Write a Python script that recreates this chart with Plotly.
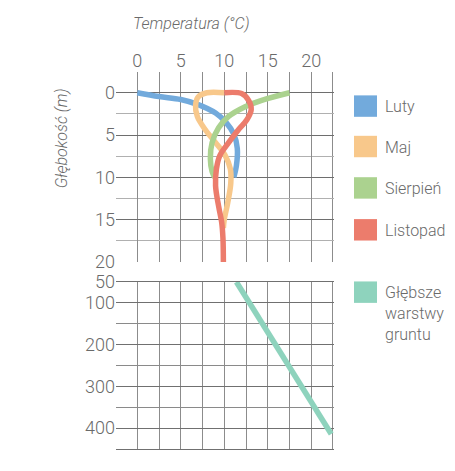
import plotly.graph_objects as go
from plotly.subplots import make_subplots

# miesiace i kolory krzywych
months = ["Luty", "Maj", "Sierpień", "Listopad"]
month_colors = ["#72aadc", "#f8c88b", "#abd28f", "#ec7c6c"]

# temperatura (°C) vs glebokosc (m)
luty_temp = [0, 2.5, 5.0, 7.0, 9.0, 10.2, 11.1, 11.5, 11.4, 11.1]
luty_depth = [0, 0.45, 0.8, 1.4, 2.4, 3.5, 4.9, 6.6, 8.6, 10.0]

maj_temp = [10.0, 8.0, 7.0, 6.7, 6.9, 7.8, 9.0, 10.1, 10.7, 10.75, 10.4, 10.0, 9.9]
maj_depth = [0, 0, 0.5, 1.5, 2.8, 4.35, 5.9, 7.4, 9.0, 10.7, 13.0, 15.0, 16.0]

sierpien_temp = [17.5, 14.3, 12.4, 10.5, 9.35, 8.6, 8.4, 8.6, 8.9]
sierpien_depth = [0, 0.9, 1.65, 2.8, 4.15, 5.9, 7.8, 9.3, 10.0]

listopad_temp = [10.0, 12.0, 12.8, 13.1, 12.6, 11.65, 10.5, 9.5, 9.1, 9.0, 9.35, 9.7, 9.85, 9.9]
listopad_depth = [0, 0.1, 0.9, 2.0, 3.2, 4.35, 5.9, 7.4, 9.0, 11.0, 13.4, 15.3, 17.2, 20.0]

# glebsze warstwy gruntu
deep_name = "Głębsze<br>warstwy<br>gruntu"
deep_color = "#8ed3bd"
deep_temp = [11.4, 12.9, 15.9, 18.9, 22.3]
deep_depth = [50, 100, 200, 300, 414]

temp_ticks = [0, 5, 10, 15, 20]
top_depth_ticks = [0, 5, 10, 15, 20]
deep_depth_ticks = [50, 100, 200, 300, 400]

month_temps = [luty_temp, maj_temp, sierpien_temp, listopad_temp]
month_depths = [luty_depth, maj_depth, sierpien_depth, listopad_depth]

FONT = "Roboto, Liberation Sans Narrow, sans-serif"
TEXT = "#6a6a6a"
W, H = 455, 471
L, R, T, B = 116, 121, 72, 12
PW, PH = W - L - R, H - T - B


def px2x(px):
    return (px - L) / PW


def py2y(py):
    return (H - B - py) / PH


fig = make_subplots(rows=2, cols=1, shared_xaxes=False, vertical_spacing=0)

for name, color, xs, ys in zip(months, month_colors, month_temps, month_depths):
    fig.add_trace(
        go.Scatter(
            x=xs, y=ys, mode="lines", name=name,
            line=dict(color=color, width=5.5, shape="spline", smoothing=1.0),
            showlegend=False,
        ),
        row=1, col=1,
    )

fig.add_trace(
    go.Scatter(
        x=deep_temp, y=deep_depth, mode="lines", name=deep_name,
        line=dict(color=deep_color, width=5.5),
        showlegend=False,
    ),
    row=2, col=1,
)

vgrid = "#8c8c8c"
tickfont = dict(family=FONT, size=18, color=TEXT, weight=300)
xcommon = dict(
    range=[-2.45, 22.62],
    tickmode="array", tickvals=temp_ticks,
    showgrid=True, gridcolor=vgrid, gridwidth=1,
    minor=dict(dtick=2.5, tick0=0, showgrid=True, gridcolor=vgrid, gridwidth=1),
    zeroline=False, ticks="",
)
fig.update_layout(
    xaxis=dict(xcommon, side="top", showticklabels=True, tickfont=tickfont),
    xaxis2=dict(xcommon, showticklabels=False, matches="x",
                showline=True, mirror=True, linecolor="#707070", linewidth=1),
    yaxis=dict(
        domain=[py2y(267), 1], range=[20, -2.45],
        tickmode="array", tickvals=top_depth_ticks,
        showgrid=True, gridcolor="#6e6e6e", gridwidth=1,
        minor=dict(dtick=2.5, tick0=0, showgrid=True, gridcolor="#b0b0b0", gridwidth=1),
        zeroline=False, ticks="", tickfont=tickfont,
    ),
    yaxis2=dict(
        domain=[0, py2y(287.5)], range=[450, 50],
        tickmode="array", tickvals=deep_depth_ticks,
        showgrid=True, gridcolor="#707070", gridwidth=1,
        minor=dict(dtick=50, tick0=0, showgrid=True, gridcolor="#8a8a8a", gridwidth=1),
        zeroline=False, ticks="", tickfont=tickfont,
    ),
)

# legenda z kwadratami po prawej
legend_rows = [107, 148.5, 191, 234, 298]
shapes = []
annotations = []
for name, color, cy in zip(months + [deep_name], month_colors + [deep_color], legend_rows):
    shapes.append(dict(
        type="rect", xref="paper", yref="paper",
        x0=px2x(354), x1=px2x(377), y0=py2y(cy + 11), y1=py2y(cy - 11),
        fillcolor=color, line=dict(width=0), layer="above",
    ))
    annotations.append(dict(
        text=name, xref="paper", yref="paper",
        x=px2x(383), y=py2y(cy - 11), xanchor="left", yanchor="top",
        align="left", showarrow=False,
        font=dict(family=FONT, size=16, color=TEXT, weight=300),
    ))

annotations.append(dict(
    text="Temperatura (°C)", xref="paper", yref="paper",
    x=px2x(131), y=py2y(22), xanchor="left", yanchor="middle", showarrow=False,
    font=dict(family=FONT, size=16, color=TEXT, style="italic", weight=300),
))
annotations.append(dict(
    text="Głębokość (m)", xref="paper", yref="paper",
    x=px2x(61), y=py2y(140), xanchor="center", yanchor="middle",
    textangle=-90, showarrow=False,
    font=dict(family=FONT, size=16, color=TEXT, style="italic", weight=300),
))

fig.update_layout(
    width=W, height=H,
    margin=dict(l=L, r=R, t=T, b=B),
    paper_bgcolor="white", plot_bgcolor="white",
    shapes=shapes, annotations=annotations,
    showlegend=False,
)

fig.write_html(
    "out.html",
    config={"displayModeBar": False},
    post_script="document.body.style.margin='0';",
)
